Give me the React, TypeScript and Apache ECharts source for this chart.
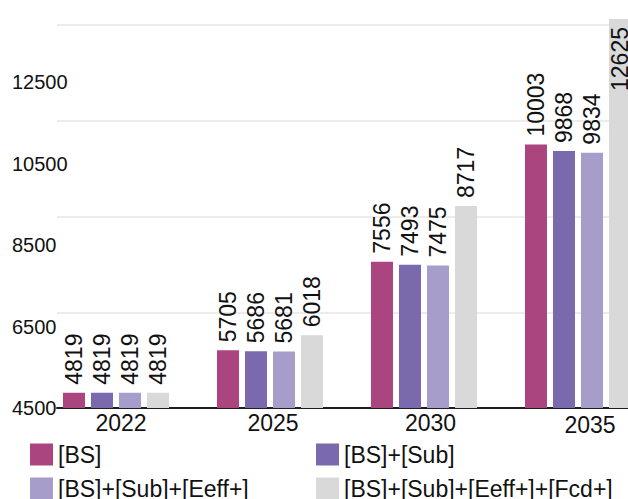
import React, { useEffect, useRef } from "react";
import * as echarts from "echarts";

// Years on the category axis
const categories = ["2022", "2025", "2030", "2035"];

// Scenario names, in legend order
const seriesNames = [
  "[BS]",
  "[BS]+[Sub]",
  "[BS]+[Sub]+[Eeff+]",
  "[BS]+[Sub]+[Eeff+]+[Fcd+]",
];

// Values per scenario and year
const bsValues = [4819, 5705, 7556, 10003];
const subValues = [4819, 5686, 7493, 9868];
const eeffValues = [4819, 5681, 7475, 9834];
const fcdValues = [4819, 6018, 8717, 12625];

// Value axis
const yMin = 4500;
const yMax = 12500;
const yInterval = 2000;

const seriesValues = [bsValues, subValues, eeffValues, fcdValues];
const seriesColors = ["#AB4580", "#7B69AE", "#A69DCB", "#D9D9D9"];

const FONT = '"Liberation Sans", Arial, sans-serif';
const TEXT = "#111111";

// plot area: value axis runs from y = 408 (yMin) up to y = 25 (yMax)
const PLOT_TOP = 25;
const PLOT_BOTTOM = 91;
const PX_PER_UNIT = (499 - PLOT_BOTTOM - PLOT_TOP) / (yMax - yMin);
// the bar grid reaches the top edge so the tallest bar is not cut
const barAxisMax = yMin + (499 - PLOT_BOTTOM) / PX_PER_UNIT;
// the tick-label axis is drawn on a tighter scale
const labelAxisMax = 13899;

// per-year nudges of the year labels (left padding, top padding)
const yearNudge: Record<string, [number, number]> = {
  "2022": [10, 1.5],
  "2025": [6, 1],
  "2030": [13, 0.5],
  "2035": [24, 4.5],
};

export default function App() {
  const ref = useRef<HTMLDivElement>(null);

  useEffect(() => {
    if (!ref.current) return;
    const chart = echarts.init(ref.current, undefined, { renderer: "svg" });

    const rich: Record<string, any> = {};
    categories.forEach((c) => {
      const [pl, pt] = yearNudge[c] || [0, 0];
      rich["y" + c] = {
        fontSize: 23,
        fontFamily: FONT,
        color: TEXT,
        lineHeight: 23,
        padding: [pt, 0, 0, pl],
      };
    });

    const series = seriesNames.map((name, i) => ({
      type: "bar",
      name,
      xAxisIndex: 1,
      yAxisIndex: 2,
      barWidth: 22,
      barGap: "27.3%",
      itemStyle: { color: seriesColors[i] },
      label: {
        show: true,
        position: "top",
        rotate: 90,
        align: "left",
        verticalAlign: "middle",
        distance: 8,
        fontSize: 23,
        fontFamily: FONT,
        color: TEXT,
      },
      // a bar taller than the axis keeps its value inside its top end
      data: seriesValues[i].map((v) =>
        v > yMax
          ? { value: v, label: { position: "insideTop", align: "right", lineHeight: 16 } }
          : v
      ),
    }));

    const legendCommon = {
      orient: "horizontal",
      padding: 0,
      itemWidth: 23,
      itemHeight: 22,
      icon: "rect",
      selectedMode: false,
      textStyle: { fontSize: 23, fontFamily: FONT, color: TEXT, lineHeight: 22 },
    };

    chart.setOption({
      animation: false,
      backgroundColor: "#ffffff",
      grid: [
        { left: 57, right: 0, top: PLOT_TOP, bottom: PLOT_BOTTOM, outerBoundsMode: "none" },
        { left: 39, width: 616, top: 0, bottom: PLOT_BOTTOM, outerBoundsMode: "none" },
      ],
      legend: [
        { ...legendCommon, left: 30, top: 443, data: [seriesNames[0]] },
        { ...legendCommon, left: 316, top: 443, data: [seriesNames[1]] },
        { ...legendCommon, left: 30, top: 477, data: [seriesNames[2]] },
        { ...legendCommon, left: 316, top: 477, data: [seriesNames[3]] },
      ],
      xAxis: [
        {
          type: "category",
          gridIndex: 0,
          data: categories,
          axisLine: { show: true, onZero: false, lineStyle: { color: "#1e1e1e", width: 2 } },
          axisTick: { show: false },
          axisLabel: { show: false },
          splitLine: { show: false },
        },
        {
          type: "category",
          gridIndex: 1,
          data: categories,
          axisLine: { show: false },
          axisTick: { show: false },
          axisLabel: {
            interval: 0,
            hideOverlap: false,
            margin: 3,
            fontSize: 23,
            fontFamily: FONT,
            color: TEXT,
            formatter: (v: string) => `{y${v}|${v}}`,
            rich,
          },
          splitLine: { show: false },
        },
      ],
      yAxis: [
        {
          type: "value",
          gridIndex: 0,
          position: "right",
          min: yMin,
          max: yMax,
          interval: yInterval,
          axisLine: { show: false },
          axisTick: { show: false },
          axisLabel: { show: false },
          splitLine: { show: true, lineStyle: { color: "#e6e6e6", width: 1.5 } },
        },
        {
          type: "value",
          gridIndex: 0,
          position: "left",
          min: yMin,
          max: labelAxisMax,
          interval: yInterval,
          axisLine: { show: false },
          axisTick: { show: false },
          splitLine: { show: false },
          axisLabel: {
            show: true,
            align: "left",
            margin: 45,
            showMaxLabel: false,
            fontSize: 20,
            fontFamily: FONT,
            color: TEXT,
            formatter: (v: number) => String(v),
          },
        },
        {
          type: "value",
          gridIndex: 1,
          min: yMin,
          max: barAxisMax,
          show: false,
        },
      ],
      series,
    });

    return () => chart.dispose();
  }, []);

  return (
    <div
      ref={ref}
      style={{ position: "fixed", left: 0, top: 0, width: 628, height: 499, background: "#fff" }}
    />
  );
}
